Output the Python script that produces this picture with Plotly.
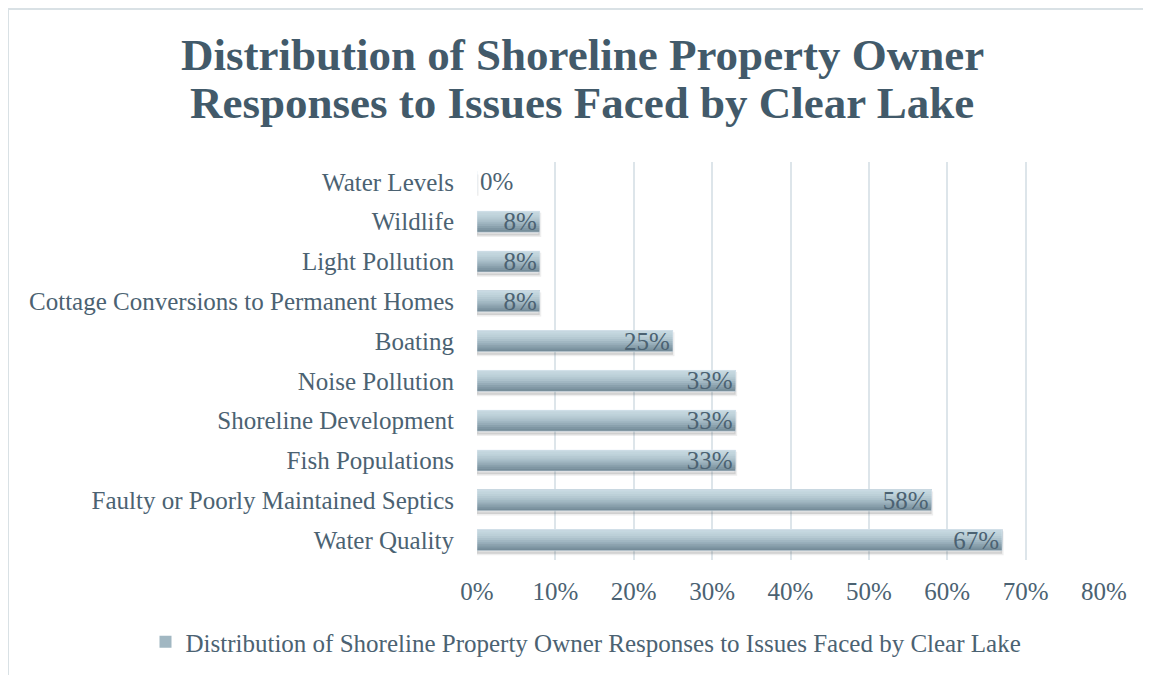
import plotly.graph_objects as go

# categories listed bottom -> top, as in the chart
issues = [
    "Water Quality",
    "Faulty or Poorly Maintained Septics",
    "Fish Populations",
    "Shoreline Development",
    "Noise Pollution",
    "Boating",
    "Cottage Conversions to Permanent Homes",
    "Light Pollution",
    "Wildlife",
    "Water Levels",
]
share = [0.67, 0.58, 0.33, 0.33, 0.33, 0.25, 0.08, 0.08, 0.08, 0.0]
labels = ["67%", "58%", "33%", "33%", "33%", "25%", "8%", "8%", "8%", "0%"]

series_name = "Distribution of Shoreline Property Owner Responses to Issues Faced by Clear Lake"
title_lines = ["Distribution of Shoreline Property Owner", "Responses to Issues Faced by Clear Lake"]
x_ticks = [0, 0.1, 0.2, 0.3, 0.4, 0.5, 0.6, 0.7, 0.8]
x_tick_text = ["0%", "10%", "20%", "30%", "40%", "50%", "60%", "70%", "80%"]

FONT = "Liberation Serif"
TXT = "#4b6272"
TITLE_C = "#425a6a"

# page has an 8px body margin, so the figure is a bit smaller than the window
W, H = 1143, 667
L, R, T, B = 469, 47, 154, 115
pw, ph = W - L - R, H - T - B

bar_w = 0.53
# bands bottom (dark) -> top (light) to fake the gradient fill
band_colors = ["#758c99", "#7f96a3", "#8aa1ad", "#96acb8", "#a1b7c2", "#acc1cb",
               "#b5c9d2", "#bcd0d8", "#c2d5dd", "#c6d8e0"]

fig = go.Figure()

# soft shadow under each bar
fig.add_trace(go.Bar(
    y=issues, x=share, orientation="h",
    offset=-bar_w / 2 - 0.08, width=bar_w,
    marker=dict(color="rgba(90,90,90,0.2)", line=dict(color="rgba(90,90,90,0.1)", width=3)),
    showlegend=False, hoverinfo="skip",
))

n = len(band_colors)
step = bar_w / n
for i, c in enumerate(band_colors):
    fig.add_trace(go.Bar(
        y=issues, x=share, orientation="h",
        offset=-bar_w / 2 + i * step, width=bar_w - i * step,
        marker=dict(color=c, line=dict(width=0)),
        name=series_name, showlegend=(i == 4),
        hoverinfo="skip",
    ))

# transparent bar carrying the data labels
fig.add_trace(go.Bar(
    y=issues, x=share, orientation="h",
    offset=-bar_w / 2, width=bar_w,
    marker=dict(color="rgba(0,0,0,0)"),
    text=labels,
    textposition=["inside" if v > 0 else "outside" for v in share],
    insidetextanchor="end",
    constraintext="none",
    cliponaxis=False,
    textfont=dict(family=FONT, size=25, color=TXT),
    showlegend=False,
))

title_y = [47, 95]  # line centres, px from top of figure
annotations = [
    dict(text=t, xref="paper", yref="paper",
         x=(574 - L) / pw, y=1 + (T - yy) / ph,
         xanchor="center", yanchor="middle", showarrow=False,
         font=dict(family=FONT, size=45, color=TITLE_C, weight="bold"))
    for t, yy in zip(title_lines, title_y)
]

fig.update_layout(
    width=W, height=H,
    barmode="overlay",
    paper_bgcolor="white", plot_bgcolor="white",
    margin=dict(l=L, r=R, t=T, b=B),
    font=dict(family=FONT, size=25, color=TXT),
    annotations=annotations,
    xaxis=dict(
        range=[0, 0.8], tickvals=x_ticks, ticktext=x_tick_text,
        showgrid=True, gridcolor="#dde5ea", gridwidth=2,
        zeroline=False, showline=False,
        ticks="", ticklabelstandoff=14,
        tickfont=dict(family=FONT, size=25, color=TXT),
    ),
    yaxis=dict(
        categoryorder="array", categoryarray=issues,
        range=[-0.5, len(issues) - 0.5],
        showgrid=False, zeroline=False, showline=False,
        ticks="", ticklabelstandoff=22,
        tickfont=dict(family=FONT, size=25, color=TXT),
    ),
    legend=dict(
        orientation="h", xref="container", yref="container",
        x=578 / W, xanchor="center", y=1 - 634 / H, yanchor="middle",
        font=dict(family=FONT, size=25, color=TXT),
    ),
    shapes=[dict(
        type="rect", xref="paper", yref="paper",
        x0=(0 - L) / pw, x1=(W + 20 - L) / pw,
        y0=(ph + T - H - 20) / ph * 1.0 if False else -(H + 20 - T - ph) / ph,
        y1=1 + (T - 1) / ph,
        line=dict(color="#d9e1e5", width=2), layer="below",
    )],
)

fig.write_html("out.html")
